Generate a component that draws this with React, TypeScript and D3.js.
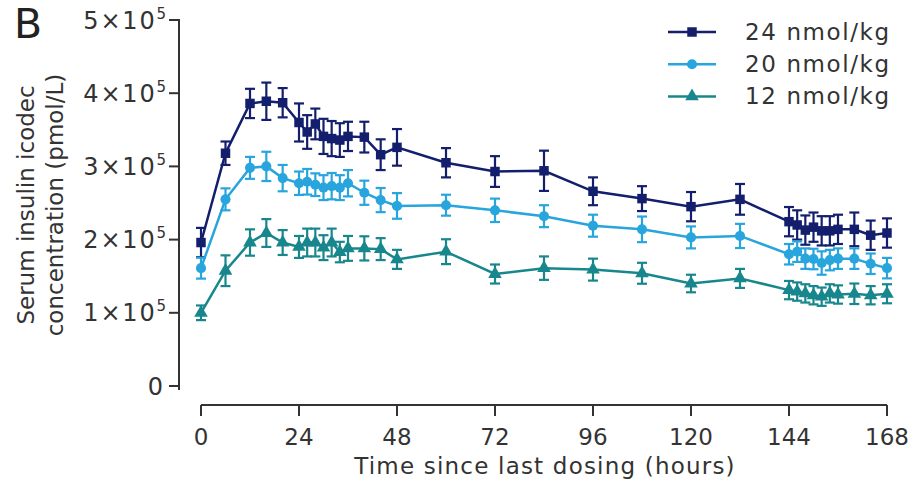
import React from "react";
import * as d3 from "d3";

// Sampling times (hours since last dose)
const hours = [0, 6, 12, 16, 20, 24, 26, 28, 30, 32, 34, 36, 40, 44, 48, 60, 72, 84, 96, 108, 120, 132, 144, 146, 148, 150, 152, 154, 156, 160, 164, 168];

// Mean concentrations and SD, in units of 1e5 pmol/L
const mean24 = [1.96, 3.18, 3.86, 3.89, 3.87, 3.6, 3.47, 3.58, 3.41, 3.38, 3.36, 3.41, 3.4, 3.16, 3.26, 3.05, 2.93, 2.94, 2.66, 2.56, 2.45, 2.55, 2.245, 2.2, 2.13, 2.17, 2.12, 2.12, 2.14, 2.14, 2.06, 2.09];
const sd24 = [0.2, 0.16, 0.2, 0.255, 0.2, 0.26, 0.23, 0.21, 0.24, 0.24, 0.23, 0.2, 0.21, 0.21, 0.25, 0.2, 0.21, 0.275, 0.19, 0.17, 0.2, 0.21, 0.2, 0.2, 0.2, 0.2, 0.2, 0.2, 0.2, 0.23, 0.2, 0.2];

const mean20 = [1.61, 2.55, 2.98, 3.0, 2.84, 2.77, 2.79, 2.75, 2.71, 2.73, 2.71, 2.77, 2.64, 2.54, 2.46, 2.47, 2.4, 2.32, 2.19, 2.14, 2.03, 2.05, 1.8, 1.835, 1.74, 1.735, 1.68, 1.72, 1.74, 1.74, 1.67, 1.61];
const sd20 = [0.143, 0.15, 0.15, 0.2, 0.18, 0.16, 0.175, 0.155, 0.17, 0.18, 0.17, 0.18, 0.165, 0.165, 0.175, 0.143, 0.16, 0.15, 0.15, 0.175, 0.15, 0.165, 0.14, 0.14, 0.14, 0.14, 0.16, 0.14, 0.14, 0.14, 0.14, 0.14];

const mean12 = [1.0, 1.575, 1.96, 2.09, 1.96, 1.9, 1.96, 1.96, 1.89, 1.96, 1.83, 1.88, 1.88, 1.87, 1.73, 1.835, 1.53, 1.61, 1.59, 1.54, 1.4, 1.47, 1.31, 1.29, 1.265, 1.24, 1.22, 1.265, 1.25, 1.26, 1.24, 1.26];
const sd12 = [0.1, 0.21, 0.18, 0.19, 0.17, 0.15, 0.19, 0.19, 0.17, 0.19, 0.14, 0.17, 0.165, 0.15, 0.13, 0.17, 0.13, 0.16, 0.15, 0.143, 0.12, 0.13, 0.125, 0.125, 0.125, 0.125, 0.125, 0.125, 0.125, 0.14, 0.125, 0.13];

const doseLabels = ["24 nmol/kg", "20 nmol/kg", "12 nmol/kg"];
const xTicks = [0, 24, 48, 72, 96, 120, 144, 168];
const yTickMantissas = [0, 1, 2, 3, 4, 5];

const UNIT = 1e5;
const FONT = "'DejaVu Sans', Verdana, sans-serif";
const INK = "#333";

type Series = {
  label: string;
  mean: number[];
  sd: number[];
  color: string;
  symbol: d3.SymbolType;
  size: number;
};

const series: Series[] = [
  { label: doseLabels[0], mean: mean24, sd: sd24, color: "#131e6c", symbol: d3.symbolSquare, size: 90 },
  { label: doseLabels[1], mean: mean20, sd: sd20, color: "#27a5dc", symbol: d3.symbolCircle, size: 80 },
  { label: doseLabels[2], mean: mean12, sd: sd12, color: "#18878d", symbol: d3.symbolTriangle, size: 80 },
];

export default function App() {
  const x = d3.scaleLinear().domain([0, 168]).range([201, 887]);
  const y = d3.scaleLinear().domain([0, 5 * UNIT]).range([386, 20]);

  const line = d3
    .line<number>()
    .x((_, i) => x(hours[i]))
    .y((v) => y(v * UNIT));

  const yAxisX = 179;
  const xAxisY = 405;
  const cap = 5;

  return (
    <svg
      width={914}
      height={485}
      style={{ position: "absolute", left: 0, top: 0, background: "#fff" }}
      fontFamily={FONT}
    >
      {/* panel letter */}
      <text x={14} y={38} fontSize={41} fill="#222">B</text>

      {/* y axis */}
      <line x1={yAxisX} x2={yAxisX} y1={y(5 * UNIT) - 1} y2={390} stroke={INK} strokeWidth={2} />
      {yTickMantissas.map((m) => (
        <g key={m} transform={`translate(0,${y(m * UNIT)})`}>
          <line x1={yAxisX - 10} x2={yAxisX} stroke={INK} strokeWidth={2} />
          {m === 0 ? (
            <text x={163} y={8.5} fontSize={24} textAnchor="end" fill={INK}>0</text>
          ) : (
            <text x={166} y={8.5} fontSize={24} textAnchor="end" fill={INK} letterSpacing={1.8}>
              {`${m}×10`}
              <tspan fontSize={15} dy={-10} letterSpacing={0}>5</tspan>
            </text>
          )}
        </g>
      ))}

      {/* y axis title */}
      <g transform="translate(34,205) rotate(-90)">
        <text x={0} y={0} fontSize={23} textAnchor="middle" fill={INK}>Serum insulin icodec</text>
        <text x={0} y={29} fontSize={23} textAnchor="middle" fill={INK}>concentration (pmol/L)</text>
      </g>

      {/* x axis */}
      <line x1={x(0)} x2={x(168)} y1={xAxisY} y2={xAxisY} stroke={INK} strokeWidth={2} />
      {xTicks.map((t) => (
        <g key={t} transform={`translate(${x(t)},${xAxisY})`}>
          <line y1={0} y2={11} stroke={INK} strokeWidth={2} />
          <text y={40} fontSize={23} textAnchor="middle" fill={INK}>{t}</text>
        </g>
      ))}
      <text x={545} y={474} fontSize={23} textAnchor="middle" fill={INK} letterSpacing={1.2}>
        Time since last dosing (hours)
      </text>

      {/* series: lines, error bars, markers */}
      {series.map((s) => (
        <g key={s.label}>
          <path d={line(s.mean) ?? ""} fill="none" stroke={s.color} strokeWidth={2.5} />
          {s.mean.map((v, i) => {
            const cx = x(hours[i]);
            const top = y((v + s.sd[i]) * UNIT);
            const bot = y((v - s.sd[i]) * UNIT);
            return (
              <g key={i} stroke={s.color} strokeWidth={2.2}>
                <line x1={cx} x2={cx} y1={top} y2={bot} />
                <line x1={cx - cap} x2={cx + cap} y1={top} y2={top} />
                <line x1={cx - cap} x2={cx + cap} y1={bot} y2={bot} />
              </g>
            );
          })}
          {s.mean.map((v, i) => (
            <path
              key={`m${i}`}
              d={d3.symbol().type(s.symbol).size(s.size)() ?? ""}
              transform={`translate(${x(hours[i])},${y(v * UNIT)})`}
              fill={s.color}
            />
          ))}
        </g>
      ))}

      {/* legend */}
      {series.map((s, i) => {
        const ly = 32 + i * 32.2;
        return (
          <g key={`lg${i}`} transform={`translate(0,${ly})`}>
            <line x1={668} x2={716} y1={0} y2={0} stroke={s.color} strokeWidth={2.5} />
            <path d={d3.symbol().type(s.symbol).size(s.size)() ?? ""} transform="translate(692,0)" fill={s.color} />
            <text x={745} y={8} fontSize={23} fill={INK} letterSpacing={1.6}>{s.label}</text>
          </g>
        );
      })}
    </svg>
  );
}
